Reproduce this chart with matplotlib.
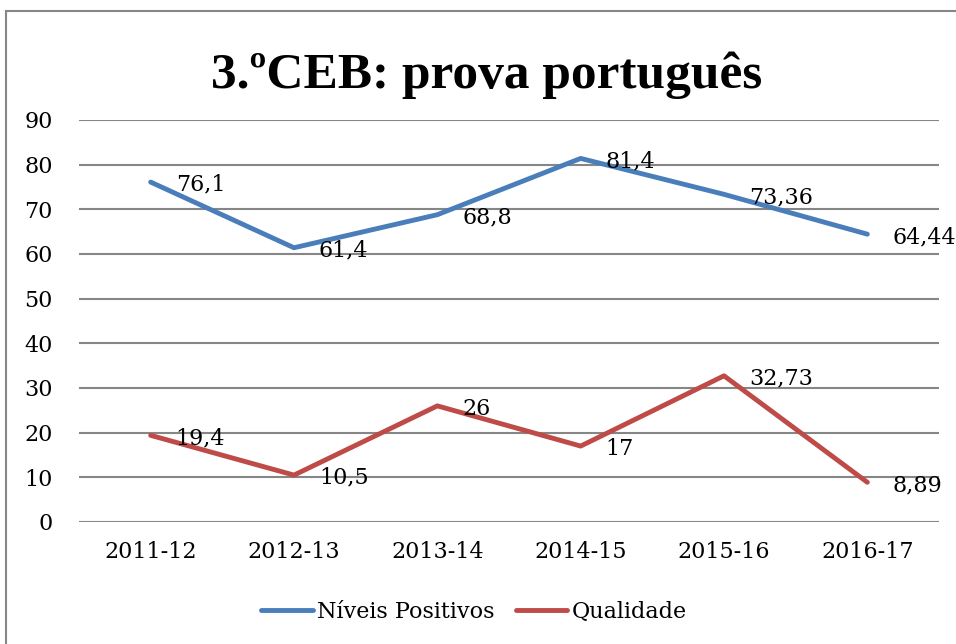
import matplotlib
matplotlib.use('Agg')
import matplotlib.pyplot as plt
from matplotlib.patches import Rectangle

# data
years = ['2011-12', '2012-13', '2013-14', '2014-15', '2015-16', '2016-17']
positivos = [76.1, 61.4, 68.8, 81.4, 73.36, 64.44]
qualidade = [19.4, 10.5, 26, 17, 32.73, 8.89]
pos_labels = ['76,1', '61,4', '68,8', '81,4', '73,36', '64,44']
qual_labels = ['19,4', '10,5', '26', '17', '32,73', '8,89']

plt.rcParams['font.family'] = ['DejaVu Serif']

fig = plt.figure(figsize=(9.56, 6.44), dpi=100)
fig.patches.append(Rectangle((6/956, -0.1), 1.2, 1 - 11/644 + 0.1, transform=fig.transFigure,
                             fill=False, edgecolor='#868686', lw=1.5))

ax = fig.add_axes([79/956, 1 - 522/644, 860/956, 402/644])
x = list(range(len(years)))
ax.plot(x, positivos, color='#4A7EBB', lw=3.5, solid_capstyle='round', label='Níveis Positivos')
ax.plot(x, qualidade, color='#BE4B48', lw=3.5, solid_capstyle='round', label='Qualidade')

for xi, v, s in zip(x, positivos, pos_labels):
    ax.annotate(s, (xi, v), xytext=(18, -2), textcoords='offset points',
                ha='left', va='center', fontsize=16)
for xi, v, s in zip(x, qualidade, qual_labels):
    ax.annotate(s, (xi, v), xytext=(18, -2), textcoords='offset points',
                ha='left', va='center', fontsize=16)

ax.set_xlim(-0.5, 5.5)
ax.set_ylim(0, 90)
ax.set_yticks(range(0, 91, 10))
ax.set_xticks(x)
ax.set_xticklabels(years)
ax.grid(axis='y', color='#868686', lw=1.5)
ax.set_axisbelow(True)
for sp in ax.spines.values():
    sp.set_visible(False)
ax.tick_params(axis='both', length=0, labelsize=16)
ax.tick_params(axis='y', pad=19)
ax.tick_params(axis='x', pad=14)

fig.text(487/956, 1 - 88/644, '3.ºCEB: prova português', ha='center', va='baseline',
         fontsize=37, fontweight='bold', family=['Liberation Serif', 'DejaVu Serif'])

ax.legend(loc='center', bbox_to_anchor=(474/956, 32/644), bbox_transform=fig.transFigure,
          ncol=2, frameon=False, fontsize=16, handlelength=2.3, handletextpad=0.18,
          columnspacing=1.0)

plt.savefig('out.png', dpi=100)
